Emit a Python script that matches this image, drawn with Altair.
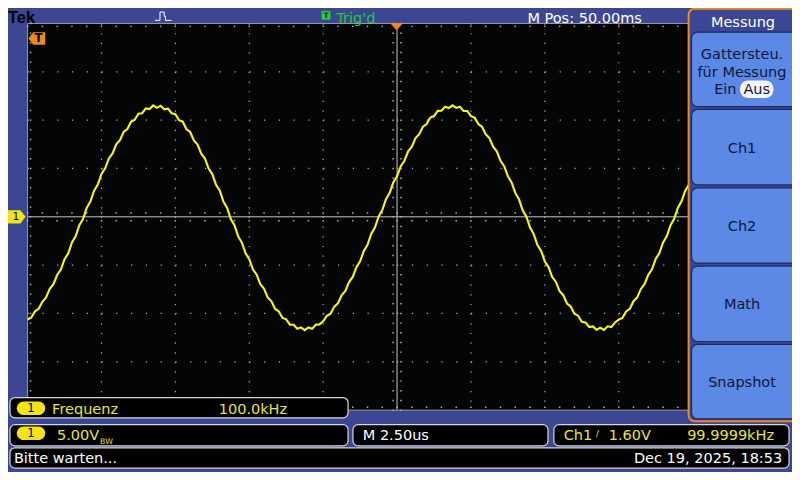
import altair as alt
import pandas as pd

# ---------------- data ----------------
TIME_START_US = -12.5          # left edge of graticule (2.50 us/div, 10 div)
TIME_STEP_US = 0.125           # spacing of the read-off samples
CH1_VOLTS = [
    -10.62, -10.41, -9.78, -9.52, -8.79, -8.35, -7.44, -6.97, -6.02, -5.45,
    -4.38, -3.79, -2.66, -2.01, -0.87, -0.24, 0.93, 1.58, 2.71, 3.33,
    4.44, 5.01, 6.04, 6.55, 7.49, 7.92, 8.78, 9.08, 9.83, 10.04,
    10.66, 10.72, 11.21, 11.15, 11.52, 11.27, 11.49, 11.12, 11.19, 10.71,
    10.62, 9.99, 9.84, 9.06, 8.77, 7.91, 7.48, 6.53, 6.03, 4.99,
    4.42, 3.31, 2.72, 1.57, 0.92, -0.23, -0.88, -2.03, -2.67, -3.78,
    -4.39, -5.46, -5.99, -6.98, -7.45, -8.36, -8.74, -9.53, -9.79, -10.47,
    -10.61, -11.16, -11.17, -11.58, -11.44, -11.73, -11.45, -11.59, -11.16, -11.13,
    -10.81, -10.24, -10.02, -9.29, -8.96, -8.12, -7.68, -6.75, -6.22, -5.21,
    -4.61, -3.54, -2.90, -1.78, -1.11, 0.02, 0.69, 1.82, 2.48, 3.57,
    4.19, 5.24, 5.80, 6.78, 7.26, 8.15, 8.54, 9.32, 9.60, 10.27,
    10.42, 10.96, 10.97, 11.38, 11.25, 11.53, 11.26, 11.39, 10.96, 10.95,
    10.41, 10.26, 9.59, 9.31, 8.53, 8.14, 7.25, 6.77, 5.79, 5.23,
    4.18, 3.56, 2.47, 1.81, 0.68, 0.01, -1.12, -1.79, -2.91, -3.53,
    -4.62, -5.20, -6.23, -6.74, -7.69, -8.11, -8.97, -9.28, -10.03, -10.23,
    -10.85, -10.92, -11.40, -11.34, -11.69, -11.48, -11.70, -11.33, -11.41, -10.93,
    -10.64, -10.46, -9.80, -9.51, -8.73, -8.34, -7.46, -6.95, -6.00, -5.43,
    -4.37, -3.76, -2.65, -2.02, -0.89, -0.21, 0.91, 1.60, 2.70, 3.34,
    4.41,
]
TIME_DIVS_US = [-12.5, -10.0, -7.5, -5.0, -2.5, 0.0, 2.5, 5.0, 7.5, 10.0, 12.5]
VOLT_DIVS = [-20, -15, -10, -5, 0, 5, 10, 15, 20]
MINOR_PER_DIV = 5

TOP_TEXT = ["Tek", "Trig'd", "M Pos: 50.00ms"]
MENU_TITLE = "Messung"
MENU_BUTTONS = ["Ch1", "Ch2", "Math", "Snapshot"]
MEAS_NAME, MEAS_VALUE = "Frequenz", "100.0kHz"
CH_SCALE, TIMEBASE = "5.00V", "M 2.50us"
TRIG_SRC, TRIG_LEVEL, TRIG_FREQ = "Ch1", "1.60V", "99.9999kHz"
STATUS, STAMP = "Bitte warten...", "Dec 19, 2025, 18:53"

# ---------------- layout helpers ----------------
W, H = 784, 464
SX, SY = W / 800, H / 480


def X(x):
    return round(x * SX, 2)


def Y(y):
    return round(y * SY, 2)


def FS(s):
    return round(s * SY, 2)


ONE = alt.Data(values=[{"k": 0}])
BG = "#3c4794"
GRID = "#b4b4b4"
YEL = "#e9e53a"
ORANGE = "#ee8a1c"
BTN = "#5b89e5"
BTN_TXT = "#10163a"
FONT = "DejaVu Sans"


def box(x0, y0, x1, y1, fill, stroke=None, sw=1.0, r=0):
    p = {"fill": fill, "cornerRadius": r}
    if stroke is None:
        p["strokeWidth"] = 0
    else:
        p["stroke"] = stroke
        p["strokeWidth"] = sw
    return alt.Chart(ONE).mark_rect(**p).encode(
        x=alt.value(X(x0)), x2=alt.value(X(x1)),
        y=alt.value(Y(y0)), y2=alt.value(Y(y1)))


def label(s, x, y, size=15, color="#ffffff", align="left", weight="normal",
          font=FONT, baseline="alphabetic"):
    return alt.Chart(ONE).mark_text(
        text=s, font=font, fontSize=FS(size), fontWeight=weight, color=color,
        align=align, baseline=baseline).encode(x=alt.value(X(x)), y=alt.value(Y(y)))


def symbol(path, x, y, width, color, filled=True, sw=1.0):
    return alt.Chart(ONE).mark_point(
        shape=path, size=round((width * SX) ** 2, 1), filled=filled, color=color,
        opacity=1, strokeWidth=sw).encode(x=alt.value(X(x)), y=alt.value(Y(y)))


XS = alt.Scale(domain=[TIME_DIVS_US[0], TIME_DIVS_US[-1]], range=[X(20), X(774)],
               nice=False, zero=False)
YS = alt.Scale(domain=[VOLT_DIVS[0], VOLT_DIVS[-1]], range=[Y(416), Y(16)],
               nice=False, zero=False)

t_step = (TIME_DIVS_US[1] - TIME_DIVS_US[0]) / MINOR_PER_DIV
v_step = (VOLT_DIVS[1] - VOLT_DIVS[0]) / MINOR_PER_DIV
minor_t = pd.DataFrame({"t": [TIME_DIVS_US[0] + t_step * i
                              for i in range(MINOR_PER_DIV * (len(TIME_DIVS_US) - 1) + 1)]})
minor_v = pd.DataFrame({"v": [VOLT_DIVS[0] + v_step * i
                              for i in range(MINOR_PER_DIV * (len(VOLT_DIVS) - 1) + 1)]})
inner_t = pd.DataFrame({"t": [d for d in TIME_DIVS_US[1:-1] if d != 0]})
inner_v = pd.DataFrame({"v": [d for d in VOLT_DIVS[1:-1] if d != 0]})
wave = pd.DataFrame({"t": [TIME_START_US + TIME_STEP_US * i for i in range(len(CH1_VOLTS))],
                     "v": CH1_VOLTS})

layers = []
# graticule
layers.append(box(20, 16, 760, 416, "#050505", stroke="#9c9c9c", sw=1))
layers.append(alt.Chart(inner_t).mark_rule(color=GRID, strokeWidth=1.2,
                                            strokeDash=[1.2, round(Y(10) - 1.2, 2)]).encode(
    x=alt.X("t:Q", scale=XS, axis=None), y=alt.value(Y(16)), y2=alt.value(Y(416))))
layers.append(alt.Chart(inner_v).mark_rule(color=GRID, strokeWidth=1.2,
                                            strokeDash=[1.2, round(X(15.08) - 1.2, 2)]).encode(
    y=alt.Y("v:Q", scale=YS, axis=None), x=alt.value(X(20)), x2=alt.value(X(774))))
layers.append(alt.Chart(pd.DataFrame({"t": [0.0]})).mark_rule(color="#c4c4c4", strokeWidth=1).encode(
    x=alt.X("t:Q", scale=XS, axis=None), y=alt.value(Y(16)), y2=alt.value(Y(416))))
layers.append(alt.Chart(pd.DataFrame({"v": [0.0]})).mark_rule(color="#c4c4c4", strokeWidth=1).encode(
    y=alt.Y("v:Q", scale=YS, axis=None), x=alt.value(X(20)), x2=alt.value(X(774))))
# minor tick dots on centre lines and borders
for yy in (212, 220, 19, 413):
    layers.append(alt.Chart(minor_t).mark_square(size=2.2, color=GRID, opacity=1).encode(
        x=alt.X("t:Q", scale=XS, axis=None), y=alt.value(Y(yy))))
for xx in (393, 401, 23):
    layers.append(alt.Chart(minor_v).mark_square(size=2.2, color=GRID, opacity=1).encode(
        y=alt.Y("v:Q", scale=YS, axis=None), x=alt.value(X(xx))))

# channel 1 trace
layers.append(alt.Chart(wave).mark_line(color="#f8f51a", strokeWidth=2.1).encode(
    x=alt.X("t:Q", scale=XS, axis=None), y=alt.Y("v:Q", scale=YS, axis=None)))

# markers
layers.append(symbol("M-1,-0.75 L0.4,-0.75 L1,0 L0.4,0.75 L-1,0.75 Z", 9, 216, 18, "#f2e21a"))
layers.append(label("1", 8, 216, size=11, color="#000000", align="center", baseline="middle"))
layers.append(symbol("M-1,0 L-0.45,-0.75 L1,-0.75 L1,0.75 L-0.45,0.75 Z", 29.5, 31.5, 17, ORANGE))
layers.append(label("T", 31, 32, size=12, color="#000000", align="center", weight="bold",
                    baseline="middle"))
layers.append(symbol("M-1,-0.55 L1,-0.55 L0,0.55 Z", 396.5, 19.5, 13, ORANGE))

# top status bar
layers.append(label(TOP_TEXT[0], 0, 15, size=17, color="#000000", weight="bold",
                    font="Liberation Sans"))
layers.append(symbol("M-1,0.5 L-0.4,0.5 L-0.4,-0.5 L0.1,-0.5 L0.1,0 L0.25,0 L0.25,0.5 L1,0.5",
                     158.5, 8.5, 17, "#ffffff", filled=False, sw=1))
layers.append(box(320, 3, 329, 12, "#22d040"))
layers.append(label("T", 324.5, 8, size=8, color="#0b3a10", align="center", weight="bold",
                    baseline="middle"))
layers.append(label(TOP_TEXT[1], 335, 15, size=15, color="#27c43f"))
layers.append(label(TOP_TEXT[2], 530, 15, size=15, color="#ffffff"))

# side menu
layers.append(box(694.5, 0.8, 812, 427.5, BG, stroke=ORANGE, sw=2, r=6))
layers.append(label(MENU_TITLE, 750, 20, size=15, color="#ffffff", align="center"))
btn_rows = [(25, 102), (105, 183), (186, 264), (267, 345), (348, 425)]
for (b0, b1) in btn_rows:
    layers.append(box(697.5, b0, 812, b1, BTN, stroke="#1f2a60", sw=1.2, r=6))
layers.append(label("Gattersteu.", 749, 53, size=15, color=BTN_TXT, align="center"))
layers.append(label("für Messung", 749, 71, size=15, color=BTN_TXT, align="center"))
layers.append(label("Ein", 732, 89, size=15, color=BTN_TXT, align="center"))
layers.append(box(747, 75, 781, 93, "#f4f6fb", r=8))
layers.append(label("Aus", 764, 89, size=15, color=BTN_TXT, align="center"))
for (b0, b1), name in zip(btn_rows[1:], MENU_BUTTONS):
    layers.append(label(name, 749, (b0 + b1) / 2 + 5.5, size=15, color=BTN_TXT, align="center"))

# bottom read-outs
BOX_STROKE = "#d8d8d8"
layers.append(box(2, 403, 347, 424, "#000000", stroke=BOX_STROKE, sw=1.2, r=5))
layers.append(box(9, 407, 38, 421, "#f2e21a", r=7))
layers.append(label("1", 23.5, 414.5, size=12, color="#000000", align="center", baseline="middle"))
layers.append(label(MEAS_NAME, 45, 420, size=15, color=YEL))
layers.append(label(MEAS_VALUE, 215, 420, size=15, color=YEL))

layers.append(box(2, 431, 347, 453, "#000000", stroke=BOX_STROKE, sw=1.2, r=5))
layers.append(box(9, 433, 38, 447, "#f2e21a", r=7))
layers.append(label("1", 23.5, 440.5, size=12, color="#000000", align="center", baseline="middle"))
layers.append(label(CH_SCALE, 50, 447, size=15, color=YEL))
layers.append(label("BW", 94, 451, size=8, color=YEL))
layers.append(box(352, 431, 551, 453, "#000000", stroke=BOX_STROKE, sw=1.2, r=5))
layers.append(label(TIMEBASE, 362, 447, size=15, color="#ffffff"))
layers.append(box(557, 431, 797, 453, "#000000", stroke=BOX_STROKE, sw=1.2, r=5))
layers.append(label(TRIG_SRC, 567, 447, size=15, color=YEL))
layers.append(label("/", 600, 444, size=9, color=YEL))
layers.append(label(TRIG_LEVEL, 613, 447, size=15, color=YEL))
layers.append(label(TRIG_FREQ, 693, 447, size=15, color=YEL))

layers.append(box(2, 455, 797, 476, "#000000", stroke=BOX_STROKE, sw=1.2, r=5))
layers.append(label(STATUS, 6, 471, size=15, color="#ffffff"))
layers.append(label(STAMP, 790, 471, size=15, color="#ffffff", align="right"))

chart = alt.layer(*layers).properties(
    width=W, height=H, background=BG, padding=0,
    autosize=alt.AutoSizeParams(type="none"),
).configure_view(strokeWidth=0)

chart.save("out.html", embed_options={"renderer": "svg", "actions": False})
